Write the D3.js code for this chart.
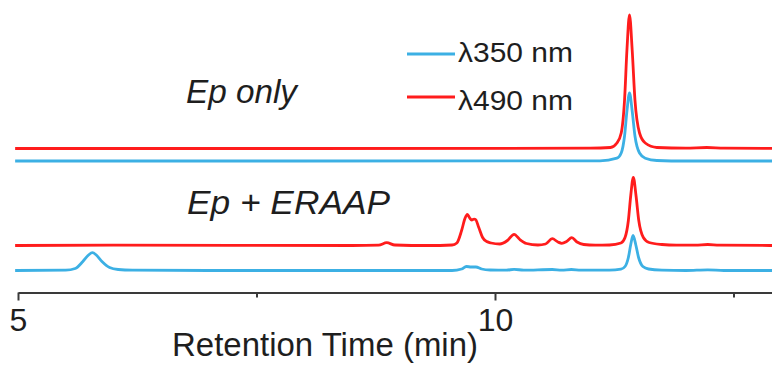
<!DOCTYPE html>
<html>
<head>
<meta charset="utf-8">
<script src="https://cdn.jsdelivr.net/npm/d3@7"></script>
<style>
    html, body { margin: 0; padding: 0; background: #fff; }
    svg { display: block; font-family: 'Liberation Sans', Arial, sans-serif; }
    .trace { fill: none; stroke-width: 2.8px; stroke-linejoin: round; }
</style>
</head>
<body>
<div id="chart"></div>
<script>
// Retention time (min) vs detector signal (arbitrary units)
const epOnly490 = [
    [4.97, 0], [8.0, 0], [11.0, 0.3], [11.21, 1], [11.278, 5.5], [11.323, 15.5],
    [11.358, 48.5], [11.383, 98.5], [11.41, 133.5], [11.438, 98.5], [11.467, 48.5],
    [11.515, 15.5], [11.575, 5.5], [11.697, 1], [12.0, 0.3], [12.22, 1], [12.4, 0.3], [12.95, 0]
];
const epOnly350 = [
    [4.97, 0], [8.0, 0], [11.1, 0.2], [11.278, 2.8], [11.323, 8], [11.358, 25],
    [11.383, 50], [11.41, 68], [11.438, 50], [11.467, 25], [11.515, 8],
    [11.575, 2.8], [11.697, 0.5], [12.0, 0], [12.95, 0]
];
const eraap490 = [
    [4.97, 0], [6.0, 0.3], [8.5, 0], [8.78, 0.3], [8.865, 2.8], [8.95, 0.5], [9.3, 0],
    [9.55, 0.5], [9.6, 2.5], [9.65, 15], [9.685, 27], [9.71, 31.2], [9.735, 27.5],
    [9.756, 25.5], [9.78, 26.3], [9.794, 26.2], [9.83, 18], [9.87, 8], [9.913, 4],
    [9.96, 2.5], [10.05, 1.5], [10.13, 5], [10.2, 11.2], [10.26, 6], [10.33, 2],
    [10.45, 0.5], [10.53, 1.5], [10.6, 6.8], [10.66, 3.5], [10.7, 2.2], [10.75, 4],
    [10.805, 7.8], [10.86, 3.5], [10.93, 1], [11.05, 0.3], [11.2, 0.5], [11.32, 2.5],
    [11.363, 8], [11.398, 25], [11.423, 50], [11.45, 68.2], [11.478, 50], [11.507, 25],
    [11.555, 8], [11.615, 3], [11.75, 1], [11.9, 0.3], [12.1, 0.3], [12.23, 1],
    [12.35, 0.3], [12.95, 0]
];
const eraap350 = [
    [4.97, 0], [5.5, 0.3], [5.6, 2], [5.68, 9], [5.74, 15.5], [5.78, 17.8], [5.82, 15.5],
    [5.88, 9], [5.96, 3], [6.05, 1], [6.2, 0.3], [7.0, 0], [9.55, 0], [9.65, 1.5],
    [9.7, 4], [9.75, 3.5], [9.8, 3.5], [9.86, 1.5], [9.95, 0.5], [10.12, 0.3], [10.2, 1.2],
    [10.3, 0.3], [10.6, 1], [10.7, 0.4], [10.8, 1], [10.9, 0.3], [11.2, 0.3], [11.32, 1.3],
    [11.363, 4], [11.398, 13], [11.423, 26], [11.447, 35], [11.475, 26], [11.505, 13],
    [11.55, 4], [11.61, 1.5], [11.75, 0.4], [12.0, 0], [12.23, 0.6], [12.4, 0], [12.95, 0]
];

// Axis ticks
const tickValues = [5, 7.5, 10, 12.5];
const tickLabels = ['5', '', '10', ''];

// Legend and sample labels
const legendLabels = ['λ350 nm', 'λ490 nm'];
const sampleLabels = ['Ep only', 'Ep + ERAAP'];

const width = 772;
const height = 366;
const blue = '#3cb0e4';
const red = '#ff1c1c';
const textColor = '#1e1e1e';

const svg = d3.select('#chart')
    .append('svg')
    .attr('width', width)
    .attr('height', height)
    .attr('viewBox', `0 0 ${width} ${height}`);

// Scales: 1 signal unit is roughly one pixel on the original figure
const x = d3.scaleLinear().domain([5, 13]).range([18, 781.2]);
const y = d3.scaleLinear().domain([0, 280]).range([292.5, 12.5]);

// Stacked traces, each shifted up by its own baseline offset
const traces = [
    { data: eraap350, offset: 22, color: blue },
    { data: eraap490, offset: 47, color: red },
    { data: epOnly350, offset: 131.5, color: blue },
    { data: epOnly490, offset: 144, color: red }
];

const line = d3.line().curve(d3.curveMonotoneX);

traces.forEach(tr => {
    line.x(d => x(d[0])).y(d => y(d[1] + tr.offset));
    svg.append('path')
        .datum(tr.data)
        .attr('class', 'trace')
        .attr('stroke', tr.color)
        .attr('d', line);
});

// X axis
const axis = d3.axisBottom(x)
    .tickValues(tickValues)
    .tickFormat((d, i) => tickLabels[i])
    .tickSizeInner(8)
    .tickSizeOuter(0)
    .tickPadding(8);

const axisG = svg.append('g')
    .attr('transform', `translate(0,${y(0)})`)
    .call(axis);

axisG.select('.domain')
    .attr('stroke', '#3a3a3a')
    .attr('stroke-width', 2.2);

axisG.selectAll('.tick line')
    .attr('stroke', '#3a3a3a')
    .attr('stroke-width', 2)
    .attr('y2', (d, i) => tickLabels[i] ? 8 : 5);

axisG.selectAll('.tick text')
    .attr('fill', textColor)
    .style('font-size', '32px')
    .style('font-family', "'Liberation Sans', Arial, sans-serif");

svg.append('text')
    .attr('x', 172)
    .attr('y', 356)
    .attr('fill', textColor)
    .attr('textLength', 306)
    .attr('lengthAdjust', 'spacingAndGlyphs')
    .style('font-size', '33px')
    .text('Retention Time (min)');

// Sample labels
svg.append('text')
    .attr('x', 186)
    .attr('y', 103)
    .attr('fill', textColor)
    .attr('textLength', 111)
    .attr('lengthAdjust', 'spacingAndGlyphs')
    .style('font-size', '33px')
    .style('font-style', 'italic')
    .text(sampleLabels[0]);

svg.append('text')
    .attr('x', 187)
    .attr('y', 214)
    .attr('fill', textColor)
    .attr('textLength', 203)
    .attr('lengthAdjust', 'spacingAndGlyphs')
    .style('font-size', '33px')
    .style('font-style', 'italic')
    .text(sampleLabels[1]);

// Legend: one text per row, the leading λ set a little larger
const legendRows = [
    { label: legendLabels[0], color: blue, lineY: 54, textY: 62 },
    { label: legendLabels[1], color: red, lineY: 97, textY: 110 }
];

legendRows.forEach(row => {
    svg.append('line')
        .attr('x1', 407)
        .attr('x2', 455)
        .attr('y1', row.lineY)
        .attr('y2', row.lineY)
        .attr('stroke', row.color)
        .attr('stroke-width', 2.8);

    svg.append('text')
        .attr('x', 458)
        .attr('y', row.textY)
        .attr('fill', textColor)
        .attr('textLength', 115)
        .attr('lengthAdjust', 'spacingAndGlyphs')
        .style('font-size', '28px')
        .text(row.label);
});
</script>
</body>
</html>
